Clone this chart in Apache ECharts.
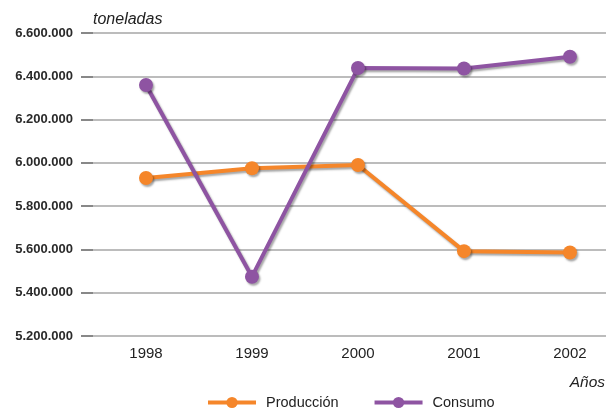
<!DOCTYPE html>
<html>
<head>
<meta charset="utf-8">
<script src="https://cdn.jsdelivr.net/npm/echarts@6/dist/echarts.min.js"></script>
<style>
html,body{margin:0;padding:0;background:#fff;}
#chart{width:607px;height:409px;}
</style>
</head>
<body>
<div id="chart"></div>
<script>
var years = [1998, 1999, 2000, 2001, 2002];
var produccion = [5930000, 5975000, 5990000, 5592000, 5586000];
var consumo = [6360000, 5474000, 6438000, 6436000, 6490000];
var yTicks = [5200000, 5400000, 5600000, 5800000, 6000000, 6200000, 6400000, 6600000];

var FONT = 'Liberation Sans, Arial, sans-serif';
function fmt(v){ return String(v).replace(/\B(?=(\d{3})+(?!\d))/g, '.'); }
function pairs(vals){ return years.map(function(y,i){ return [y, vals[i]]; }); }

var chart = echarts.init(document.getElementById('chart'), null, {renderer:'canvas'});
var shadow = {shadowColor:'rgba(0,0,0,0.35)', shadowBlur:2, shadowOffsetX:1.5, shadowOffsetY:2};
chart.setOption({
  animation: false,
  textStyle: {fontFamily: FONT},
  grid: {left: 93, right: 1, top: 33, bottom: 73},
  title: {
    text: 'Años', right: 2, top: 375, padding: 0,
    textStyle: {fontFamily: FONT, fontStyle: 'italic', fontWeight: 'normal', fontSize: 15.5, color: '#222'}
  },
  legend: {
    left: 206, top: 395, padding: 0,
    itemWidth: 48, itemHeight: 14, itemGap: 34,
    lineStyle: {width: 4, shadowBlur: 0, shadowOffsetX: 0, shadowOffsetY: 0, shadowColor: 'transparent'},
    itemStyle: {shadowBlur: 0, shadowOffsetX: 0, shadowOffsetY: 0, shadowColor: 'transparent'},
    textStyle: {fontFamily: FONT, fontSize: 14.5, color: '#222', padding: [0,0,0,5]},
    data: ['Producción', 'Consumo']
  },
  xAxis: {
    type: 'value', min: 1997.5, max: 2002.34,
    axisLine: {show: false}, axisTick: {show: false}, splitLine: {show: false},
    axisLabel: {
      customValues: years, margin: 10,
      fontFamily: FONT, fontSize: 15, color: '#222',
      formatter: function(v){ return String(v); }
    }
  },
  yAxis: {
    type: 'value', min: yTicks[0], max: yTicks[yTicks.length-1], interval: 200000,
    name: 'toneladas', nameLocation: 'end', nameGap: 13,
    nameTextStyle: {fontFamily: FONT, fontStyle: 'italic', fontSize: 16, color: '#222', align: 'left', verticalAlign: 'middle'},
    axisLine: {show: false},
    axisTick: {show: true, length: 12, lineStyle: {color: '#888', width: 2}},
    splitLine: {show: true, lineStyle: {color: '#a6a6a6', width: 1.5}},
    axisLabel: {
      margin: 20, fontFamily: FONT, fontSize: 13, fontWeight: 'bold', color: '#2a2a2a',
      formatter: fmt
    }
  },
  series: [
    {
      name: 'Producción', type: 'line', data: pairs(produccion),
      symbol: 'circle', symbolSize: 14,
      lineStyle: Object.assign({color: '#F5862A', width: 4}, shadow),
      itemStyle: Object.assign({color: '#F5862A'}, shadow)
    },
    {
      name: 'Consumo', type: 'line', data: pairs(consumo),
      symbol: 'circle', symbolSize: 14,
      lineStyle: Object.assign({color: '#8E54A2', width: 4}, shadow),
      itemStyle: Object.assign({color: '#8E54A2'}, shadow)
    }
  ]
});
</script>
</body>
</html>
